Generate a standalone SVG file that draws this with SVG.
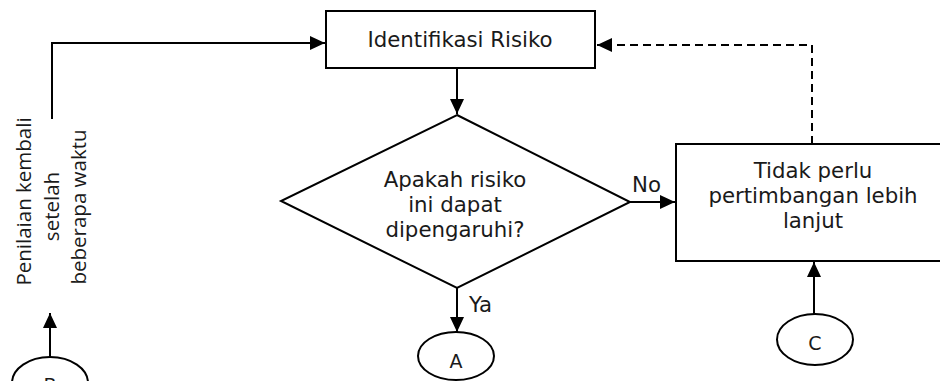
<svg xmlns="http://www.w3.org/2000/svg" width="940" height="381" viewBox="0 0 940 381">
<style>
  .box { fill: #fff; stroke: #000; stroke-width: 2; }
  .ln { fill: none; stroke: #000; stroke-width: 2; }
  .dash { stroke-dasharray: 8 5; }
  .t { font-family: "DejaVu Sans", "Liberation Sans", sans-serif; font-size: 21.3px; fill: #1a1a1a; text-anchor: middle; }
  .s { font-family: "DejaVu Sans", "Liberation Sans", sans-serif; font-size: 19px; fill: #1a1a1a; text-anchor: middle; }
  .l { font-family: "Open Sans", "Liberation Sans", sans-serif; font-size: 20.5px; fill: #1a1a1a; text-anchor: middle; }
</style>
<defs>
  <marker id="ah" markerUnits="userSpaceOnUse" markerWidth="16" markerHeight="15" refX="15" refY="7" orient="auto">
    <path d="M0,0 L15,7 L0,14 z" fill="#000"/>
  </marker>
</defs>
<rect width="940" height="381" fill="#fff"/>

<g id="connectors">
  <path class="ln" d="M52,119 V43 H325" marker-end="url(#ah)"/>
  <path class="ln" d="M457,68 V114" marker-end="url(#ah)"/>
  <path class="ln" d="M630,202 H675" marker-end="url(#ah)"/>
  <path class="ln" d="M457,288 V332" marker-end="url(#ah)"/>
  <path class="ln dash" d="M812,144 V45 H597" marker-end="url(#ah)"/>
  <path class="ln" d="M814,314 V262" marker-end="url(#ah)"/>
  <path class="ln" d="M50,357 V313" marker-end="url(#ah)"/>
  <text class="t" x="632" y="192" style="text-anchor:start">No</text>
  <text class="t" x="469" y="312" style="text-anchor:start">Ya</text>
</g>

<g id="identifikasi">
  <rect class="box" x="326" y="11" width="269" height="57"/>
  <text class="t" x="460" y="47">Identifikasi Risiko</text>
</g>

<g id="decision">
  <polygon class="box" points="457,115 630,202 457,288 281,201"/>
  <text class="t" x="455" y="187">Apakah risiko</text>
  <text class="t" x="455" y="212">ini dapat</text>
  <text class="t" x="455" y="237">dipengaruhi?</text>
</g>

<g id="tidak">
  <rect class="box" x="676" y="144" width="290" height="117"/>
  <text class="t" x="813" y="178">Tidak perlu</text>
  <text class="t" x="813" y="203">pertimbangan lebih</text>
  <text class="t" x="813" y="228">lanjut</text>
</g>

<g id="connA">
  <ellipse class="box" cx="456" cy="356" rx="38" ry="24"/>
  <text class="s" x="456" y="368">A</text>
</g>

<g id="connC">
  <ellipse class="box" cx="815" cy="339.5" rx="38" ry="25.5"/>
  <text class="s" x="815" y="350">C</text>
</g>

<g id="connB">
  <ellipse class="box" cx="50" cy="383" rx="38" ry="26"/>
  <text class="s" x="50" y="392">B</text>
</g>

<g id="label-reassess">
  <text class="l" transform="translate(31,201.5) rotate(-90)">Penilaian kembali</text>
  <text class="l" transform="translate(59,206.5) rotate(-90)">setelah</text>
  <text class="l" transform="translate(86,207) rotate(-90)">beberapa waktu</text>
</g>
</svg>
